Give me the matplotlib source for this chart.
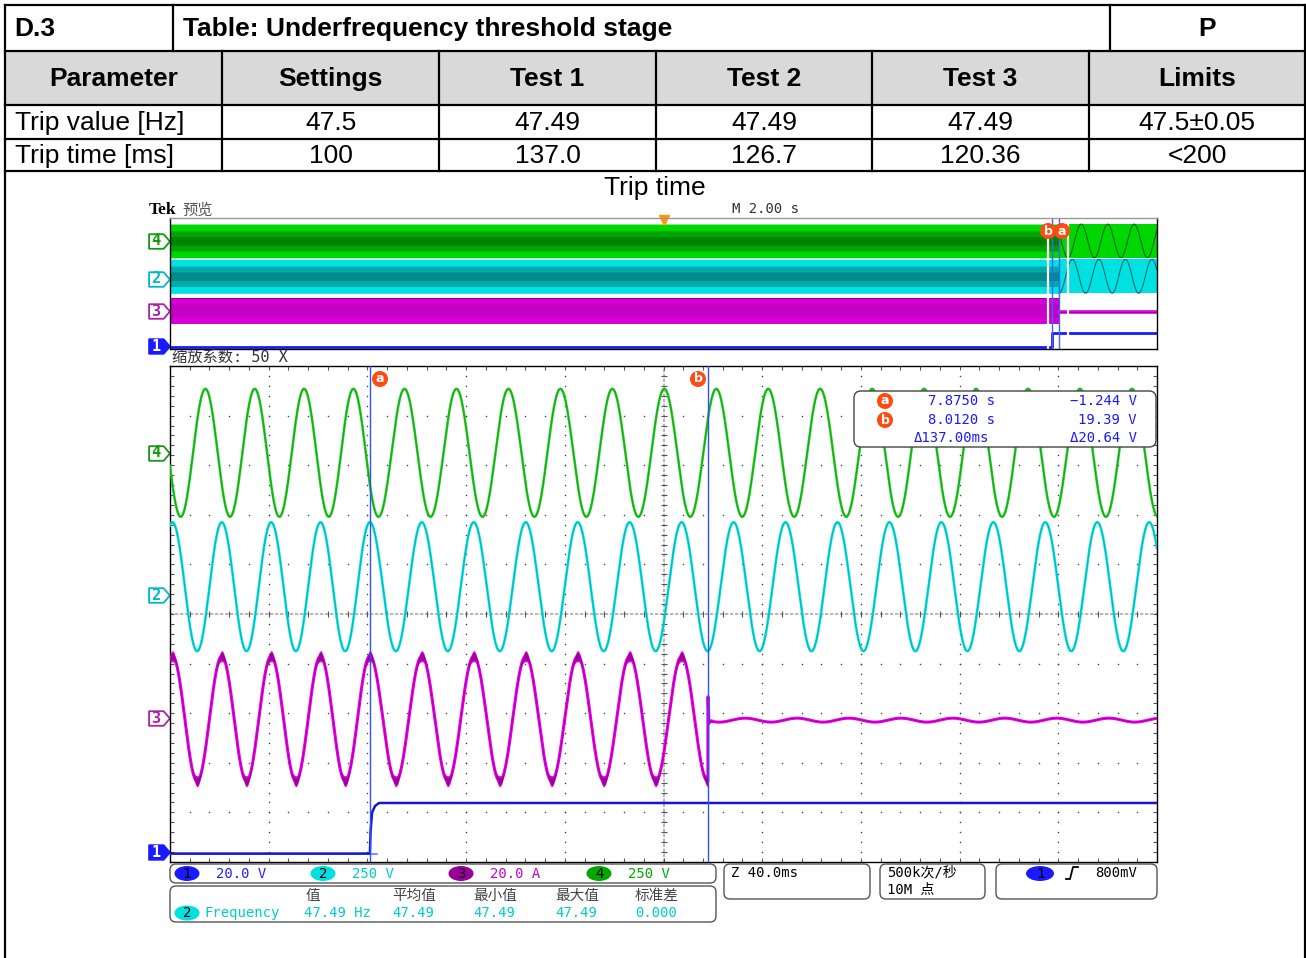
import numpy as np
import matplotlib
matplotlib.use("Agg")
import matplotlib.pyplot as plt
from matplotlib.patches import FancyBboxPatch, Ellipse, Rectangle
from matplotlib.path import Path
from matplotlib.collections import LineCollection
from matplotlib.transforms import blended_transform_factory as blend

plt.rcParams['font.family'] = ['Liberation Sans', 'DejaVu Sans', 'Noto Sans CJK SC']
TEK = ['DejaVu Sans Mono', 'Noto Sans CJK SC']
CJK = ['Noto Sans CJK SC', 'DejaVu Sans']

# ---------------- table ----------------
table_no = "D.3"
table_title = "Table: Underfrequency threshold stage"
table_verdict = "P"
header = ["Parameter", "Settings", "Test 1", "Test 2", "Test 3", "Limits"]
row_trip_value = ["Trip value [Hz]", "47.5", "47.49", "47.49", "47.49", "47.5±0.05"]
row_trip_time = ["Trip time [ms]", "100", "137.0", "126.7", "120.36", "<200"]
caption = "Trip time"

# ---------------- scope settings ----------------
preview_sdiv = 2.00        # M 2.00 s
zoom_sdiv = 0.040          # Z 40.0 ms
zoom_factor = 50
zoom_start = 7.794         # s, left edge of the zoom window
cursor_a = 7.8750
cursor_b = 8.0120
cursor_volts = ["−1.244 V", "19.39 V"]
delta_t = "Δ137.00ms"
delta_v = "Δ20.64 V"

ch_names = ["1", "2", "3", "4"]
ch_scale = ["20.0 V", "250 V", "20.0 A", "250 V"]
ch_marker_level = [-4.80, 0.38, -2.10, 3.25]      # div
meas_head = ["值", "平均值", "最小值", "最大值", "标准差"]
meas_vals = ["47.49 Hz", "47.49", "47.49", "47.49", "0.000"]
sample_rate = "500k次/秒"
record_len = "10M 点"
trig_level = "800mV"

# ---------------- signals ----------------
freq_before = 50.0         # Hz, before the frequency step (cursor a)
freq_after = 47.49         # Hz, after the step
# level (div), amplitude (div), phase at cursor a (deg)
v4 = (3.25, 1.29, 120.0)   # ch4 green voltage
v2 = (0.55, 1.30, 0.0)     # ch2 cyan voltage
i3 = (-2.11, 1.26, 0.0)    # ch3 magenta current
i3_preview_env = 1.0
i3_res = (-2.14, 0.04, -80.0)              # residual after trip
i3_trip_dt = [0.0, 0.0001, 0.0004, 0.0015]  # s after cursor b
i3_trip_val = [-1.67, -1.67, -2.20, -2.15]
d1_low, d1_high = -4.83, -3.81            # ch1 levels, div
d1_rise_dt = [0.0, 0.0003, 0.0009, 0.0021, 0.0037]
d1_rise_val = [-4.83, -4.37, -4.00, -3.87, -3.81]

col = {"1": "#1a1aff", "2": "#00dede", "3": "#e000e0", "4": "#22cc22"}
badge_col = {"1": "#1a1aff", "2": "#00e0e0", "3": "#990099", "4": "#00a800"}
text_col = {"1": "#2020ff", "2": "#00cccc", "3": "#cc00cc", "4": "#00a800"}
mark_col = {"1": "#1a1aff", "2": "#00b8c8", "3": "#aa22aa", "4": "#139913"}
ORANGE = "#ff4a10"
BLUE_TXT = "#1a1aff"

W, H = 1306, 958
fig = plt.figure(figsize=(W / 100, H / 100), dpi=100)
fig.patch.set_facecolor("white")


def px_axes(x0, y0, x1, y1, **kw):
    return fig.add_axes([x0 / W, 1 - y1 / H, (x1 - x0) / W, (y1 - y0) / H], **kw)


def phase(t):
    f = np.where(t < cursor_a, freq_before, freq_after)
    return 2 * np.pi * f * (t - cursor_a)


def wave(t, p):
    lvl, amp, ph = p
    return lvl + amp * np.cos(phase(t) + np.radians(ph))


zoom_end = zoom_start + 10 * zoom_sdiv
prev_lo, prev_hi = -5 * preview_sdiv, 5 * preview_sdiv

# ---------------- preview window ----------------
axp = px_axes(170, 218, 1157, 349)
axp.set_xlim(prev_lo, prev_hi)
axp.set_ylim(-5, 5)
axp.set_xticks([]); axp.set_yticks([])
for s in axp.spines.values():
    s.set_color("black"); s.set_linewidth(1)
axp.spines["top"].set_color("#999999")

tp = np.linspace(prev_lo, cursor_b, 1500)
tq = np.linspace(cursor_b, prev_hi, 200)
t_alias = np.arange(cursor_b, prev_hi, preview_sdiv * 10 / 987)
for p, shades, dark in [(v4, ["#00d600", "#00a400", "#008400"], "#006a00"),
                        (v2, ["#00e2e2", "#00aaaa", "#008a8a"], "#007070")]:
    lvl, amp, ph = p
    for k, c in zip([1.0, 0.6, 0.25], shades):
        axp.fill_between(tp, lvl - k * amp, lvl + k * amp, color=c, lw=0)
    axp.fill_between(tq, lvl - amp, lvl + amp, color=shades[0], lw=0)
    axp.plot(t_alias, wave(t_alias, p), color=dark, lw=0.8)

tm = np.linspace(prev_lo, cursor_b, 500)
axp.fill_between(tm, i3[0] - i3_preview_env, i3[0] + i3_preview_env, color="#d600d6", lw=0)
axp.fill_between(tm, i3[0] - 0.55 * i3_preview_env, i3[0] + 0.55 * i3_preview_env,
                 color="#c400c4", lw=0)
axp.plot(tm, np.full_like(tm, i3[0] + i3_preview_env), color="#8a008a", lw=0.6)
axp.plot([cursor_b, prev_hi], [i3_res[0], i3_res[0]], color="#e000e0", lw=2.6)
axp.plot([cursor_b, prev_hi], [i3_res[0], i3_res[0]], color="#900090", lw=0.6)
axp.plot([prev_lo, cursor_a, cursor_a, prev_hi], [d1_low, d1_low, d1_high, d1_high],
         color=col["1"], lw=2)
for x in (zoom_start, zoom_end):
    axp.axvline(x, color="white", lw=1.6)
for x in (cursor_a, cursor_b):
    axp.axvline(x, color="#4060ff", lw=1)
axp.plot([0], [4.85], marker="v", ms=7, color="#ff9900", clip_on=False, ls="none")

# ---------------- zoom window ----------------
axz = px_axes(170, 366, 1157, 862)
axz.set_xlim(zoom_start, zoom_end)
axz.set_ylim(-5, 5)
axz.set_xticks([]); axz.set_yticks([])
for s in axz.spines.values():
    s.set_color("black"); s.set_linewidth(1)

xmaj = zoom_start + np.arange(11) * zoom_sdiv
xmin = zoom_start + np.arange(51) * zoom_sdiv / 5
ymaj = np.arange(-5, 6)
ymin = np.linspace(-5, 5, 51)
gx, gy = np.meshgrid(xmaj[1:-1], ymin[1:-1])
axz.scatter(gx.ravel(), gy.ravel(), s=1.2, color="#444444", lw=0, zorder=1)
gx, gy = np.meshgrid(xmin[1:-1], ymaj[1:-1])
axz.scatter(gx.ravel(), gy.ravel(), s=1.2, color="#444444", lw=0, zorder=1)
xc = xmaj[5]
axz.axhline(0, color="#aaaaaa", lw=1.2, ls=(0, (2, 1)), zorder=1)
axz.axvline(xc, color="#aaaaaa", lw=1.2, ls=(0, (2, 1)), zorder=1)
dx = zoom_sdiv * 10 / 987   # one pixel in s
dy = 10 / 496               # one pixel in div
segs = []
for x in xmin:
    segs.append([(x, -3 * dy), (x, 3 * dy)])
    segs.append([(x, -5), (x, -5 + 4 * dy)])
    segs.append([(x, 5), (x, 5 - 4 * dy)])
for y in ymin:
    segs.append([(xc - 3 * dx, y), (xc + 3 * dx, y)])
    segs.append([(zoom_start, y), (zoom_start + 4 * dx, y)])
    segs.append([(zoom_end, y), (zoom_end - 4 * dx, y)])
axz.add_collection(LineCollection(segs, colors="#555555", lw=0.8, zorder=1))

t = np.linspace(zoom_start, zoom_end, 8001)
axz.plot(t, wave(t, v4), color=col["4"], lw=1.8, zorder=3)
axz.plot(t, wave(t, v4), color="#0a7a0a", lw=0.5, alpha=0.6, zorder=3)
axz.plot(t, wave(t, v2), color=col["2"], lw=1.8, zorder=3)
axz.plot(t, wave(t, v2), color="#007f7f", lw=0.5, alpha=0.5, zorder=3)

pre = t < cursor_b
t1 = t[pre]
y1 = wave(t1, i3)
t_tr = cursor_b + np.array(i3_trip_dt)
t2 = t[t > t_tr[-1]]
y2 = wave(t2, i3_res)
ti = np.concatenate([t1, t_tr, t2])
yi = np.concatenate([y1, i3_trip_val, y2])
c1 = np.cos(phase(t1) + np.radians(i3[2]))
hw = 0.11 * c1 ** 6
axz.fill_between(t1, y1 - hw, y1 + hw, color="#dd00dd", lw=0, zorder=3)
axz.plot(ti, yi, color="#e400e4", lw=2.2, zorder=3)
hw2 = 0.07 * c1 ** 10
axz.fill_between(t1, y1 - hw2, y1 + hw2, color="#8a008a", lw=0, alpha=0.85, zorder=3)
axz.plot(ti, yi, color="#a000a0", lw=0.5, zorder=3)

td = np.concatenate([[zoom_start], cursor_a + np.array(d1_rise_dt), [zoom_end]])
yd = np.concatenate([[d1_low], d1_rise_val, [d1_high]])
axz.plot([zoom_start, cursor_a + 0.003], [d1_low, d1_low], color="#6a7aff", lw=1.2, zorder=3)
axz.plot(td, yd, color="#1616d0", lw=1.8, zorder=4)

for x in (cursor_a, cursor_b):
    axz.axvline(x, color="#3050ff", lw=1, zorder=5)

# channel markers at the left of both windows
mpath = Path([(-10, -7), (4, -7), (10, 0), (4, 7), (-10, 7), (-10, -7)], closed=True)
for a in (axp, axz):
    tr = blend(a.transAxes, a.transData)
    for name, lvl in zip(ch_names, ch_marker_level):
        filled = name == "1"
        a.plot([-0.0112], [lvl], marker=mpath, ms=15, ls="none",
               mfc=mark_col[name] if filled else "white", mec=mark_col[name], mew=1.3,
               transform=tr, clip_on=False)
        a.text(-0.0145, lvl, name, transform=tr, ha="center", va="center",
               fontsize=11, family=TEK, color="white" if filled else mark_col[name],
               fontweight="bold")

# ---------------- overlay: table, labels, readouts ----------------
ov = fig.add_axes([0, 0, 1, 1], zorder=10)
ov.set_xlim(0, W); ov.set_ylim(H, 0); ov.axis("off")

col_edges = [5, 222, 439, 656, 872, 1089, 1305]
ov.add_patch(Rectangle((5, 51), 1300, 54, fc="#d9d9d9", ec="none"))
LW = 1.6
for y in [5, 51, 105, 139, 171]:
    ov.plot([5, 1305], [y, y], color="black", lw=LW)
for x in [5, 1305]:
    ov.plot([x, x], [5, H], color="black", lw=LW)
for x in [173, 1110]:
    ov.plot([x, x], [5, 51], color="black", lw=LW)
for x in col_edges[1:-1]:
    ov.plot([x, x], [51, 171], color="black", lw=LW)

FS = 19
ov.text(14, 29, table_no, fontsize=FS, fontweight="bold", va="center")
ov.text(183, 29, table_title, fontsize=FS, fontweight="bold", va="center")
ov.text(1207, 29, table_verdict, fontsize=FS, fontweight="bold", va="center", ha="center")
centers = [(a + b) / 2 for a, b in zip(col_edges[:-1], col_edges[1:])]
for cx, txt in zip(centers, header):
    ov.text(cx, 79, txt, fontsize=FS, fontweight="bold", ha="center", va="center")
for y, row in [(123, row_trip_value), (156, row_trip_time)]:
    ov.text(15, y, row[0], fontsize=FS, va="center")
    for cx, txt in zip(centers[1:], row[1:]):
        ov.text(cx, y, txt, fontsize=FS, ha="center", va="center")
ov.text(655, 188, caption, fontsize=FS, ha="center", va="center")

# scope header texts
ov.text(149, 210, "Tek", family="Liberation Serif", fontweight="bold", fontsize=12.5, va="center")
ov.text(182, 210, "预览", family=CJK, fontsize=11, color="#555555", va="center")
ov.text(732, 209, f"M {preview_sdiv:.2f} s", family=TEK, fontsize=10, color="#333333", va="center")
ov.text(172, 357, f"缩放系数: {zoom_factor} X", family=TEK, fontsize=11, color="#333333",
        va="center")


def badge(x, y, letter):
    ov.text(x, y, letter, family="DejaVu Sans", fontweight="bold", fontsize=9, color="white",
            ha="center", va="center",
            bbox=dict(boxstyle="circle,pad=0.12", fc=ORANGE, ec="none"))


badge(1048, 231, "b"); badge(1062, 231, "a")
badge(380, 379, "a"); badge(698, 379, "b")

# cursor readout
ov.add_patch(FancyBboxPatch((854, 391), 302, 56, boxstyle="round,pad=0,rounding_size=7",
                            fc="white", ec="#444444", lw=1))
for y, letter, tv, vv in [(401, "a", cursor_a, cursor_volts[0]), (420, "b", cursor_b, cursor_volts[1])]:
    badge(885, y, letter)
    ov.text(928, y, f"{tv:.4f} s", family=TEK, fontsize=10, color=BLUE_TXT, va="center")
    ov.text(1137, y, vv, family=TEK, fontsize=10, color=BLUE_TXT, va="center", ha="right")
ov.text(914, 438, delta_t, family=TEK, fontsize=10, color=BLUE_TXT, va="center")
ov.text(1137, 438, delta_v, family=TEK, fontsize=10, color=BLUE_TXT, va="center", ha="right")


def rbox(x0, y0, x1, y1):
    ov.add_patch(FancyBboxPatch((x0, y0), x1 - x0, y1 - y0,
                                boxstyle="round,pad=0,rounding_size=6",
                                fc="white", ec="#555555", lw=1))


def ch_badge(x, y, name, w=25):
    ov.add_patch(Ellipse((x, y), w, 15, fc=badge_col[name], ec="none"))
    ov.text(x, y, name, family=TEK, fontsize=10, color="black", ha="center", va="center")


# channel scale bar
rbox(170, 864, 716, 883)
for name, sc, xb in zip(ch_names, ch_scale, [187, 323, 461, 599]):
    ch_badge(xb, 873.5, name)
    ov.text(xb + 29, 873.5, sc, family=TEK, fontsize=10, color=text_col[name], va="center")

# measurement bar
rbox(170, 886, 716, 922)
for xh, hd, v in zip([306, 392, 473, 555, 635], meas_head, meas_vals):
    ov.text(xh, 896, hd, family=CJK, fontsize=10.5, color="#444444", va="center")
    ov.text(xh - 2 if v.endswith("Hz") else xh, 913, v, family=TEK, fontsize=10,
            color=text_col["2"], va="center")
ch_badge(187, 913, "2")
ov.text(204, 913, "Frequency", family=TEK, fontsize=10, color=text_col["2"], va="center")

# horizontal / acquisition / trigger boxes
rbox(724, 864, 870, 899)
ov.text(731, 873, f"Z {zoom_sdiv * 1000:.1f}ms", family=TEK, fontsize=10, color="black", va="center")
rbox(880, 864, 985, 899)
ov.text(887, 873, sample_rate, family=TEK, fontsize=10, color="black", va="center")
ov.text(887, 890, record_len, family=TEK, fontsize=10, color="black", va="center")
rbox(996, 864, 1157, 899)
ch_badge(1040, 873.5, "1", w=28)
ov.plot([1066, 1070, 1073, 1078], [879, 879, 867, 867], color="black", lw=1.3)
ov.text(1095, 873, trig_level, family=TEK, fontsize=10, color="black", va="center")

fig.savefig("out.png", dpi=100, facecolor="white")
